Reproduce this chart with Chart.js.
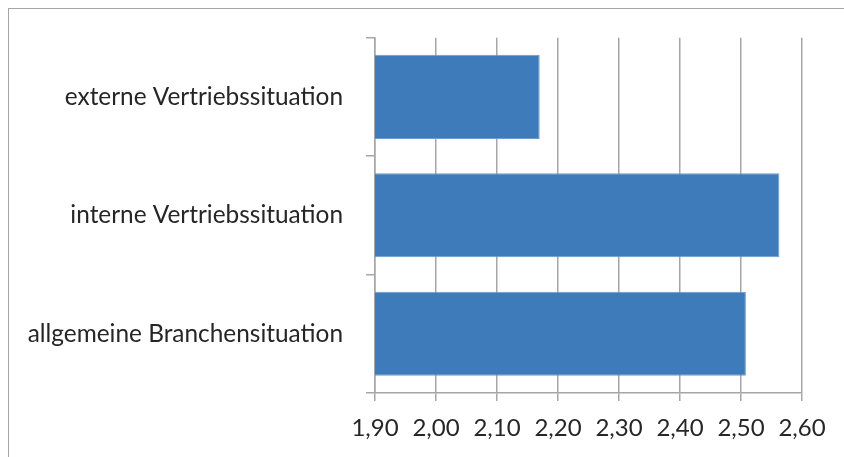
<!DOCTYPE html>
<html>
<head>
<meta charset="utf-8">
<script src="https://cdn.jsdelivr.net/npm/chart.js"></script>
<style>
  html, body { margin: 0; padding: 0; background: #fff; overflow: hidden; }
  .frame {
    position: absolute; left: 8px; top: 8px; width: 900px; height: 500px;
    border: 1.5px solid #a6a6a6; box-sizing: border-box;
  }
  canvas { position: absolute; left: 0; top: 0; }
</style>
</head>
<body>
<div class="frame"></div>
<canvas id="chart" width="844" height="457"></canvas>
<script>
// categories, top to bottom
const categories = ['externe Vertriebssituation', 'interne Vertriebssituation', 'allgemeine Branchensituation'];
const values = [2.17, 2.563, 2.508];
const tickValues = [1.9, 2.0, 2.1, 2.2, 2.3, 2.4, 2.5, 2.6];

const gridColor = '#a6a6a6';
const textColor = '#262626';

new Chart(document.getElementById('chart'), {
  type: 'bar',
  data: {
    labels: categories,
    datasets: [{
      data: values,
      backgroundColor: '#3e7bba',
      borderColor: '#6b9ccf',
      borderWidth: 1,
      borderSkipped: false,
      categoryPercentage: 1,
      barPercentage: 0.71
    }]
  },
  options: {
    indexAxis: 'y',
    responsive: false,
    animation: false,
    layout: { padding: { top: 37, right: 42, left: 0, bottom: 0 } },
    plugins: { legend: { display: false }, tooltip: { enabled: false } },
    scales: {
      x: {
        min: tickValues[0],
        max: tickValues[tickValues.length - 1],
        afterBuildTicks: (scale) => { scale.ticks = tickValues.map(v => ({ value: v })); },
        afterFit: (scale) => { scale.height = 64; },
        grid: { color: gridColor, lineWidth: 1.5, tickLength: 8 },
        border: { color: gridColor, width: 1.5 },
        ticks: {
          color: textColor, font: { family: 'Lato', size: 24 }, padding: 13, maxRotation: 0,
          callback: (v) => Number(v).toFixed(2).replace('.', ',')
        }
      },
      y: {
        afterFit: (scale) => { scale.width = 375; },
        grid: { drawOnChartArea: false, color: gridColor, lineWidth: 1.5, tickLength: 9, offset: true },
        border: { color: gridColor, width: 1.5 },
        ticks: { color: textColor, font: { family: 'Lato', size: 24.4 }, padding: 23 }
      }
    }
  }
});
</script>
</body>
</html>
